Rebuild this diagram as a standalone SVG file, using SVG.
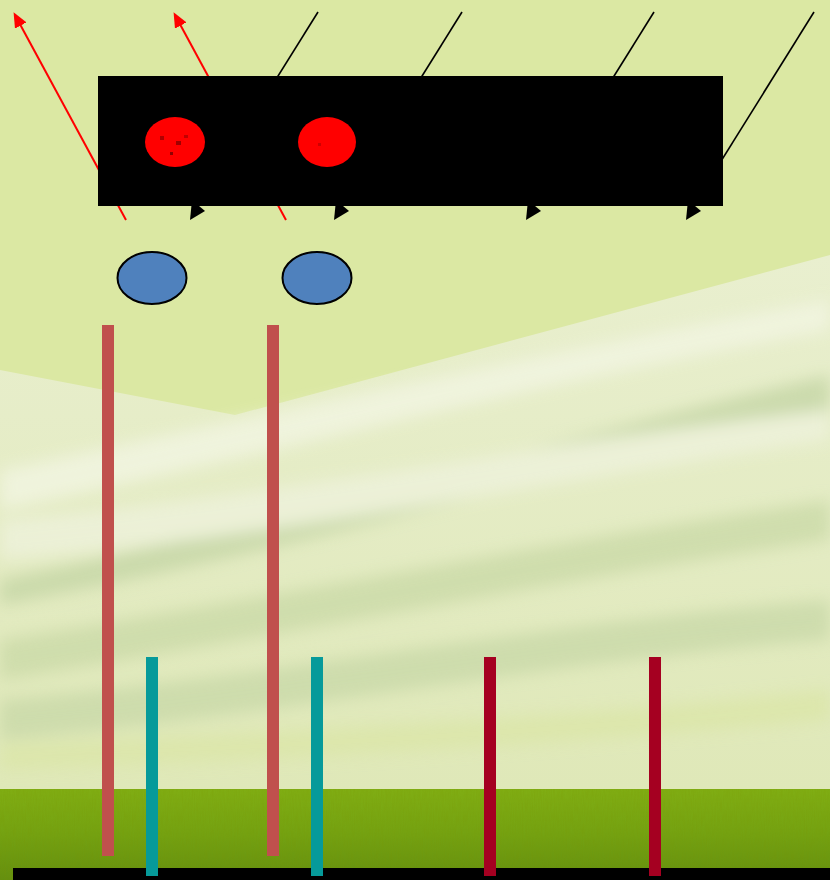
<svg xmlns="http://www.w3.org/2000/svg" width="830" height="880" viewBox="0 0 830 880">
<style>
.bar-r{fill:#c0504d}
.bar-t{fill:#069a9a}
.bar-d{fill:#a50021}
.oval{fill:#4f81bd;stroke:#000;stroke-width:2}
.blk{stroke:#000;stroke-width:1.6;fill:none}
.red{stroke:#ff0000;stroke-width:2;fill:none}
.ah{fill:#000}
</style>
<defs>
<marker id="redhead" viewBox="0 0 10 10" refX="8" refY="5" markerWidth="15" markerHeight="13" orient="auto" markerUnits="userSpaceOnUse" preserveAspectRatio="none">
<path d="M0,0 L10,5 L0,10 z" fill="#ff0000"/>
</marker>
<linearGradient id="grass" x1="0" y1="0" x2="0" y2="1">
<stop offset="0" stop-color="#80ae14"/>
<stop offset="0.5" stop-color="#74a212"/>
<stop offset="1" stop-color="#648f10"/>
</linearGradient>
<linearGradient id="low" x1="0" y1="0" x2="0" y2="1">
<stop offset="0" stop-color="#e9efcf"/>
<stop offset="1" stop-color="#dfe8b8"/>
</linearGradient>
<filter id="blur" x="-10%" y="-50%" width="120%" height="200%"><feGaussianBlur stdDeviation="8"/></filter>
<filter id="noise" x="0" y="0" width="1" height="1" filterUnits="objectBoundingBox"><feTurbulence type="fractalNoise" baseFrequency="0.9 0.08" numOctaves="2" seed="3"/><feColorMatrix values="0 0 0 0 0.2  0 0 0 0 0.3  0 0 0 0 0  0 0 0 0.5 -0.1"/></filter>
</defs>
<g id="background">
<rect x="0" y="0" width="830" height="880" fill="#dbe8a3"/>
<polygon points="0,370 235,415 830,255 830,789 0,789" fill="url(#low)"/>
<g filter="url(#blur)" opacity="0.8">
<path d="M0,470 C200,430 500,360 830,300 L830,330 C500,390 250,460 0,510 z" fill="#f2f5e2"/>
<path d="M0,580 C250,530 550,440 830,375 L830,410 C560,470 260,560 0,605 z" fill="#c5d6a6"/>
<path d="M0,640 C260,600 560,540 830,500 L830,540 C560,580 260,640 0,680 z" fill="#cbdaa8"/>
<path d="M0,700 C250,680 560,620 830,600 L830,640 C560,660 250,720 0,740 z" fill="#c9d9a9"/>
<path d="M0,745 C300,730 560,720 830,690 L830,720 C560,745 300,760 0,770 z" fill="#dbe6a8"/>
<path d="M0,520 C250,500 560,440 830,410 L830,440 C560,480 260,540 0,560 z" fill="#eef2dc"/>
</g>
<rect x="0" y="789" width="830" height="91" fill="url(#grass)"/>
<rect x="0" y="789" width="830" height="91" filter="url(#noise)" opacity="0.6"/>
<rect x="13" y="868" width="817" height="12" fill="#000"/>
</g>
<g id="connectors">
<line class="red" x1="126" y1="220" x2="15" y2="15" marker-end="url(#redhead)"/>
<line class="red" x1="286" y1="220" x2="175" y2="15" marker-end="url(#redhead)"/>
<line class="blk" x1="318" y1="12" x2="197" y2="206"/>
<line class="blk" x1="462" y1="12" x2="341" y2="206"/>
<line class="blk" x1="654" y1="12" x2="533" y2="206"/>
<line class="blk" x1="814" y1="12" x2="693" y2="206"/>
<polygon class="ah" points="192,200 205,211 190,220"/>
<polygon class="ah" points="336,200 349,211 334,220"/>
<polygon class="ah" points="528,200 541,211 526,220"/>
<polygon class="ah" points="688,200 701,211 686,220"/>
</g>
<g id="panel">
<rect x="98" y="76" width="625" height="130" fill="#000"/>
</g>
<g id="blob1">
<ellipse cx="175" cy="142" rx="30" ry="25" fill="#ff0000"/>
<rect x="160" y="136" width="4" height="4" fill="#b00000"/>
<rect x="176" y="141" width="5" height="4" fill="#a00000"/>
<rect x="184" y="135" width="4" height="3" fill="#c00000"/>
<rect x="170" y="152" width="3" height="3" fill="#900000"/>
</g>
<g id="blob2">
<ellipse cx="327" cy="142" rx="29" ry="25" fill="#ff0000"/>
<rect x="318" y="143" width="3" height="3" fill="#d00000"/>
</g>
<g id="oval1"><ellipse class="oval" cx="152" cy="278" rx="34.5" ry="26"/></g>
<g id="oval2"><ellipse class="oval" cx="317" cy="278" rx="34.5" ry="26"/></g>
<g id="bar1"><rect class="bar-r" x="102" y="325" width="12" height="531"/></g>
<g id="bar2"><rect class="bar-r" x="267" y="325" width="12" height="531"/></g>
<g id="bar3"><rect class="bar-t" x="146" y="657" width="12" height="219"/></g>
<g id="bar4"><rect class="bar-t" x="311" y="657" width="12" height="219"/></g>
<g id="bar5"><rect class="bar-d" x="484" y="657" width="12" height="219"/></g>
<g id="bar6"><rect class="bar-d" x="649" y="657" width="12" height="219"/></g>
</svg>
